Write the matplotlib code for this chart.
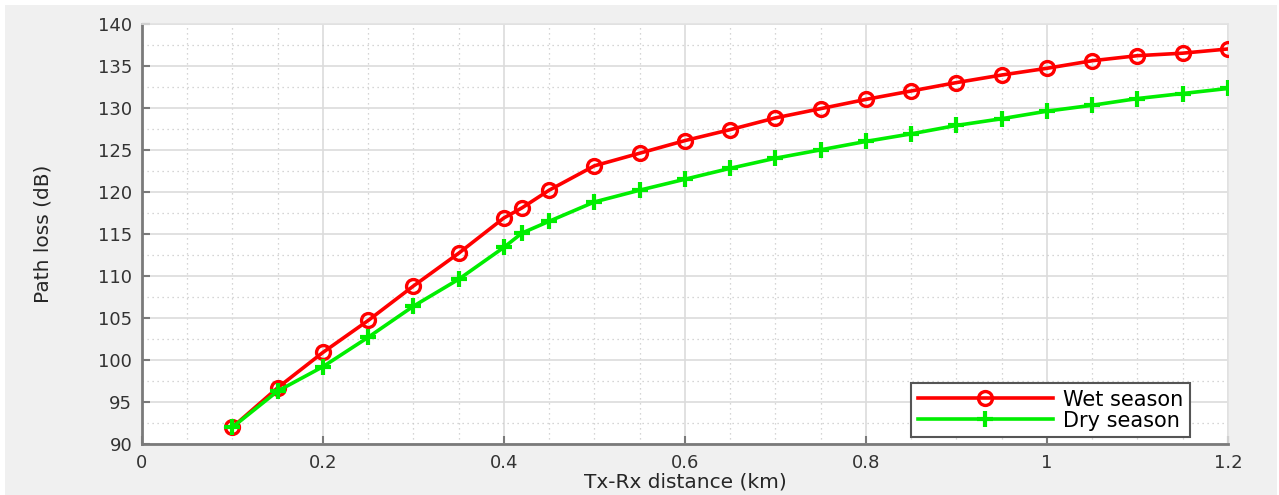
import matplotlib.pyplot as plt
from matplotlib.patches import Rectangle
from matplotlib.ticker import MultipleLocator

plt.rcParams.update({"font.family": ["DejaVu Sans"]})

# Tx-Rx distance (km)
distance = [0.10, 0.15, 0.20, 0.25, 0.30, 0.35, 0.40, 0.42, 0.45, 0.50, 0.55,
            0.60, 0.65, 0.70, 0.75, 0.80, 0.85, 0.90, 0.95, 1.00, 1.05, 1.10,
            1.15, 1.20]

# Path loss (dB)
wet_season = [92.0, 96.7, 100.9, 104.7, 108.8, 112.7, 116.9, 118.1, 120.2, 123.1,
              124.6, 126.1, 127.4, 128.8, 129.9, 131.0, 132.0, 133.0, 133.9,
              134.7, 135.6, 136.2, 136.5, 137.0]
dry_season = [92.0, 96.3, 99.2, 102.7, 106.4, 109.6, 113.4, 115.1, 116.5, 118.8,
              120.2, 121.5, 122.8, 124.0, 125.0, 126.0, 126.9, 127.9, 128.7,
              129.6, 130.3, 131.1, 131.7, 132.3]

x_ticks = [0, 0.2, 0.4, 0.6, 0.8, 1.0, 1.2]
x_tick_labels = ["0", "0.2", "0.4", "0.6", "0.8", "1", "1.2"]

fig = plt.figure(figsize=(12.79, 4.95), dpi=100, facecolor="white")
# grey figure panel, thin white margin on the left / top edges
fig.patches.append(Rectangle((5 / 1279, 0), 1272 / 1279, 490 / 495,
                             transform=fig.transFigure, facecolor="#f0f0f0",
                             edgecolor="none", zorder=-10))

ax = fig.add_axes([0.111, 0.103, 0.849, 0.849])
ax.set_facecolor("white")

ax.plot(distance, wet_season, color="#ff0000", lw=2.6, marker="o", ms=10,
        mfc="none", mec="#ff0000", mew=2.4, label="Wet season", zorder=4)
ax.plot(distance, dry_season, color="#00ee00", lw=2.6, marker="+", ms=12,
        mew=3.0, label="Dry season", zorder=5)

ax.set_xlim(0, 1.2)
ax.set_ylim(90, 140)
ax.set_xticks(x_ticks, x_tick_labels)
ax.xaxis.set_minor_locator(MultipleLocator(0.05))
ax.yaxis.set_major_locator(MultipleLocator(5))
ax.yaxis.set_minor_locator(MultipleLocator(2.5))

ax.grid(which="major", color="#dcdcdc", lw=1.2, ls="-")
ax.grid(which="minor", color="#c8c8c8", lw=0.9, ls=(0, (1, 3)))
ax.set_axisbelow(True)

for side in ["left", "bottom"]:
    ax.spines[side].set_color("#7a7a7a")
    ax.spines[side].set_linewidth(2.0)
for side in ["top", "right"]:
    ax.spines[side].set_color("#e2e2e2")
    ax.spines[side].set_linewidth(1.2)

ax.tick_params(axis="both", which="major", direction="in", length=6,
               width=1.5, color="#7a7a7a", labelsize=13, labelcolor="#333333",
               pad=7)
ax.tick_params(axis="both", which="minor", length=0)

ax.set_xlabel("Tx-Rx distance (km)", fontsize=14.5, color="#262626")
ax.set_ylabel("Path loss (dB)", fontsize=14.5, color="#262626")
ax.xaxis.set_label_coords(0.5, -0.068)
ax.yaxis.set_label_coords(-0.082, 0.5)

leg = ax.legend(loc="lower right", fontsize=15, frameon=True, fancybox=False,
                edgecolor="#555555", framealpha=1, borderpad=0.3,
                handlelength=6.5, handletextpad=0.5, labelspacing=0.05,
                borderaxespad=0, bbox_to_anchor=(0.965, 0.017))
leg.get_frame().set_linewidth(1.5)

fig.savefig("out.png", dpi=100, facecolor=fig.get_facecolor())
